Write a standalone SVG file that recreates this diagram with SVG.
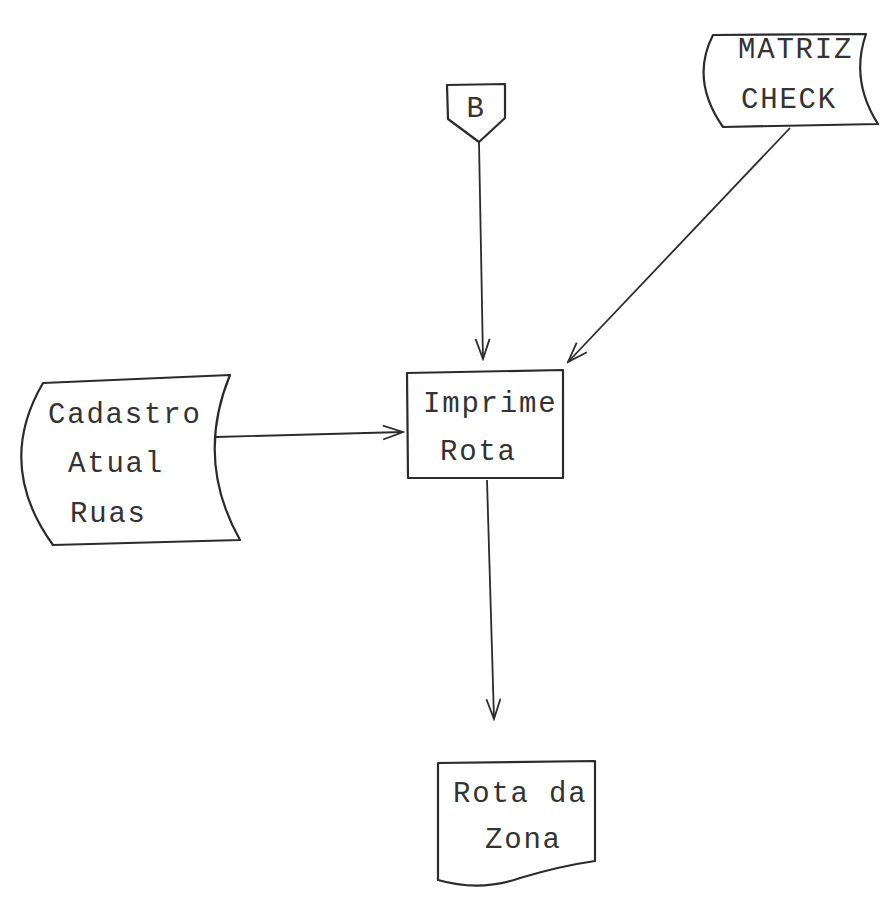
<svg xmlns="http://www.w3.org/2000/svg" width="882" height="900" viewBox="0 0 882 900">
  <style>
    .shape { fill: none; stroke: #2b2b2b; stroke-width: 2.2; stroke-linejoin: round; }
    .edge { fill: none; stroke: #2b2b2b; stroke-width: 1.8; }
    .label { font-family: "Liberation Mono", "DejaVu Sans Mono", monospace; font-size: 29px; letter-spacing: 1.8px; fill: #333333; }
  </style>
  <defs>
    <marker id="arrow" markerWidth="24" markerHeight="16" refX="22" refY="8" orient="auto" markerUnits="userSpaceOnUse">
      <polyline points="2,1 22,8 2,15" fill="none" stroke="#2b2b2b" stroke-width="1.8"/>
    </marker>
  </defs>
  <rect width="882" height="900" fill="#ffffff"/>

  <!-- off-page connector B -->
  <g id="connector-b">
    <path class="shape" d="M447,85 L505,84 L505,118 L479,142 L448,119 Z"/>
    <text class="label" x="476" y="117" text-anchor="middle" letter-spacing="0">B</text>
  </g>

  <!-- stored data: MATRIZ CHECK -->
  <g id="matriz-check">
    <path class="shape" d="M713,35 L866,34 Q850,80 878,124 L723,127 Q690,80 713,35 Z"/>
    <text class="label" x="738" y="58">MATRIZ</text>
    <text class="label" x="741" y="108">CHECK</text>
  </g>

  <!-- stored data: Cadastro Atual Ruas -->
  <g id="cadastro">
    <path class="shape" d="M43,383 L230,375 Q195,460 240,540 L53,545 Q-5,465 43,383 Z"/>
    <text class="label" x="48" y="423">Cadastro</text>
    <text class="label" x="68" y="472">Atual</text>
    <text class="label" x="70" y="522">Ruas</text>
  </g>

  <!-- process: Imprime Rota -->
  <g id="imprime-rota">
    <path class="shape" d="M407,373 L563,370 L563,478 L408,478 Z"/>
    <text class="label" x="423" y="412">Imprime</text>
    <text class="label" x="440" y="460">Rota</text>
  </g>

  <!-- document: Rota da Zona -->
  <g id="rota-da-zona">
    <path class="shape" d="M438,763 L595,761 L595,861 Q560,866 520,878 Q480,892 438,880 Z"/>
    <text class="label" x="453" y="802">Rota da</text>
    <text class="label" x="485" y="848">Zona</text>
  </g>

  <g id="connectors">
    <line class="edge" x1="479" y1="142" x2="483" y2="359" marker-end="url(#arrow)"/>
    <line class="edge" x1="790" y1="128" x2="568" y2="362" marker-end="url(#arrow)"/>
    <line class="edge" x1="216" y1="437" x2="403" y2="432" marker-end="url(#arrow)"/>
    <line class="edge" x1="487" y1="480" x2="494" y2="719" marker-end="url(#arrow)"/>
  </g>
</svg>
